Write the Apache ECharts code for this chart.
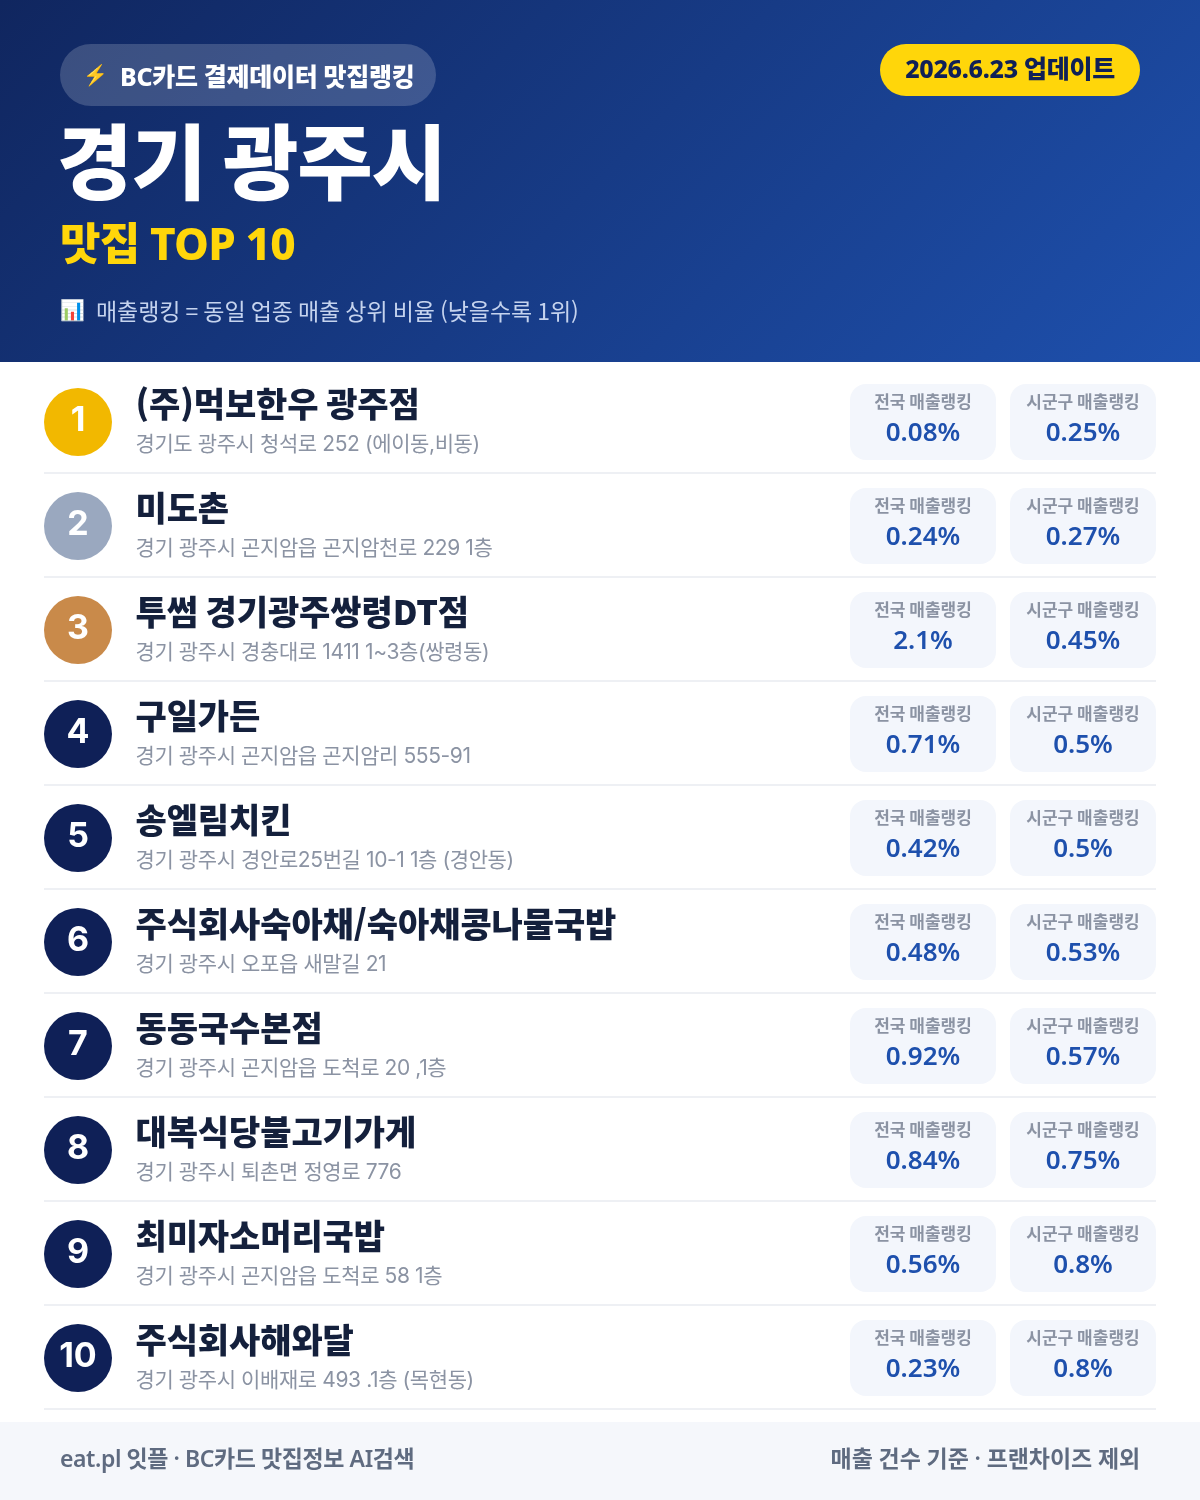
<!DOCTYPE html>
<html lang="ko"><head><meta charset="utf-8">
<script src="https://cdn.jsdelivr.net/npm/echarts@6/dist/echarts.min.js"></script>
<style>html,body{margin:0;padding:0;background:#fff}#c{width:1200px;height:1500px}</style>
</head><body><div id="c"></div>
<script>
const ranks=[1,2,3,4,5,6,7,8,9,10];
const names=['(주)먹보한우 광주점','미도촌','투썸 경기광주쌍령DT점','구일가든','송엘림치킨','주식회사숙아채/숙아채콩나물국밥','동동국수본점','대복식당불고기가게','최미자소머리국밥','주식회사해와달'];
const addresses=['경기도 광주시 청석로 252 (에이동,비동)','경기 광주시 곤지암읍 곤지암천로 229 1층','경기 광주시 경충대로 1411 1~3층(쌍령동)','경기 광주시 곤지암읍 곤지암리 555-91','경기 광주시 경안로25번길 10-1 1층 (경안동)','경기 광주시 오포읍 새말길 21','경기 광주시 곤지암읍 도척로 20 ,1층','경기 광주시 퇴촌면 정영로 776','경기 광주시 곤지암읍 도척로 58 1층','경기 광주시 이배재로 493 .1층 (목현동)'];
const nationalRank=[0.08,0.24,2.1,0.71,0.42,0.48,0.92,0.84,0.56,0.23];
const districtRank=[0.25,0.27,0.45,0.5,0.5,0.53,0.57,0.75,0.8,0.8];
const nationalLabel='전국 매출랭킹', districtLabel='시군구 매출랭킹';
const badge='BC카드 결제데이터 맛집랭킹', boltIcon='⚡', chartIcon='📊';
const updated='2026.6.23 업데이트';
const title='경기 광주시', subtitle='맛집 TOP 10';
const note='매출랭킹 = 동일 업종 매출 상위 비율 (낮을수록 1위)';
const footerLeft='eat.pl 잇플 · BC카드 맛집정보 AI검색', footerRight='매출 건수 기준 · 프랜차이즈 제외';

// letter-spacing per "weight size" (the canvas context has no per-element tracking otherwise)
const tracking={'800 82':-1.2,'800 44':-0.8,'800 25':-0.3,'800 34':-0.1,'600 23':-0.42,'601 23':-0.1,'400 21':-0.4,'400 23':-0.05};
(function(){
  const P=CanvasRenderingContext2D.prototype, d=Object.getOwnPropertyDescriptor(P,'font');
  Object.defineProperty(P,'font',{configurable:true,get(){return d.get.call(this);},set(v){
    d.set.call(this,v);
    const m=String(v).match(/(\d{3}) (\d+)px/);
    this.letterSpacing=((m&&tracking[m[1]+' '+m[2]])||0)+'px';
  }});
})();

const C='"Noto Sans CJK KR",sans-serif', N='"Noto Sans","Noto Sans CJK KR",sans-serif', I='Inter,"Noto Sans CJK KR",sans-serif';
const NAVY='#0f2057', BLUE='#1e50ad', GOLD='#ffd60a';
const medal=['#f2b800','#9aa8bf','#c98a4a'];

const chart=echarts.init(document.getElementById('c'),null,{renderer:'canvas',width:1200,height:1500});
const idx=ranks.map((r,i)=>i);

function pill(cx,labelText,valueOf){
  return {type:'custom',coordinateSystem:'cartesian2d',silent:true,animation:false,z:3,
    data:idx.map(i=>[cx,i]),
    renderItem:(p,api)=>{
      const c=api.coord([api.value(0),api.value(1)]), i=api.value(1);
      return {type:'group',children:[
        {type:'rect',shape:{x:c[0]-73,y:c[1]-38,width:146,height:76,r:16},style:{fill:'#f3f6fc'}},
        {type:'text',style:{x:c[0],y:c[1]-20,text:labelText,font:'700 17px '+C,fill:'#8b93a3',textAlign:'center',textVerticalAlign:'middle'}},
        {type:'text',style:{x:c[0],y:c[1]+12,text:valueOf[i]+'%',font:'600 26px '+N,fill:BLUE,textAlign:'center',textVerticalAlign:'middle'}}
      ]};
    }};
}

const option={
  animation:false,
  backgroundColor:'#ffffff',
  grid:{left:0,top:370,width:1200,height:1040},
  xAxis:{type:'value',min:0,max:1200,show:false},
  yAxis:{type:'category',inverse:true,data:ranks,show:false},
  graphic:{elements:[
    {type:'rect',z:0,shape:{x:0,y:0,width:1200,height:362},style:{fill:{type:'linear',x:210,y:-209,x2:990,y2:571,global:true,colorStops:[{offset:0,color:'#10265f'},{offset:1,color:'#1e50ad'}]}}},
    {type:'rect',z:1,shape:{x:60,y:44,width:376,height:62,r:31},style:{fill:'rgba(255,255,255,0.18)'}},
    {type:'text',z:2,style:{x:83,y:76,text:boltIcon,font:'20px "Noto Color Emoji",'+C,fill:'#ffc83d',textVerticalAlign:'middle'}},
    {type:'text',z:2,style:{x:120,y:79,text:badge,font:'800 25px '+N,fill:'#ffffff',textVerticalAlign:'middle'}},
    {type:'rect',z:1,shape:{x:880,y:44,width:260,height:52,r:26},style:{fill:GOLD}},
    {type:'text',z:2,style:{x:1010,y:71,text:updated,font:'800 25px '+N,fill:NAVY,textAlign:'center',textVerticalAlign:'middle'}},
    {type:'text',z:2,style:{x:57,y:162,text:title,font:'800 82px '+C,fill:'#ffffff',textVerticalAlign:'middle'}},
    {type:'text',z:2,style:{x:60,y:247,text:subtitle,font:'800 44px '+N,fill:GOLD,textVerticalAlign:'middle'}},
    {type:'text',z:2,style:{x:60,y:311,text:chartIcon,font:'20px "Noto Color Emoji",'+C,fill:'#cfe0ff',textVerticalAlign:'middle'}},
    {type:'text',z:2,style:{x:96,y:311,text:note,font:'400 23px '+C,fill:'#c5d3ee',textVerticalAlign:'middle'}},
    {type:'rect',z:1,shape:{x:0,y:1422,width:1200,height:78},style:{fill:'#f5f7fb'}},
    {type:'text',z:2,style:{x:60,y:1460,text:footerLeft,font:'600 23px '+N,fill:'#5f6b80',textVerticalAlign:'middle'}},
    {type:'text',z:2,style:{x:1140,y:1460,text:footerRight,font:'601 23px '+N,fill:'#5f6b80',textAlign:'right',textVerticalAlign:'middle'}}
  ]},
  series:[
    {type:'custom',silent:true,animation:false,z:1,data:idx.map(i=>[44,i]),
      renderItem:(p,api)=>{
        const c=api.coord([api.value(0),api.value(1)]), e=api.coord([1156,api.value(1)]);
        return {type:'rect',shape:{x:c[0],y:c[1]+50,width:e[0]-c[0],height:2},style:{fill:'#eef0f4'}};
      }},
    {type:'scatter',silent:true,animation:false,z:2,symbol:'circle',symbolSize:68,
      data:idx.map(i=>({value:[78,i],rank:ranks[i],itemStyle:{color:medal[i]||NAVY,opacity:1}})),
      label:{show:true,position:'inside',offset:[0,-1],formatter:p=>String(ranks[p.dataIndex]),color:'#fff',fontFamily:'Inter,sans-serif',fontWeight:700,fontSize:34}},
    {type:'custom',silent:true,animation:false,z:3,data:idx.map(i=>[135.5,i]),
      renderItem:(p,api)=>{
        const c=api.coord([api.value(0),api.value(1)]), i=api.value(1);
        return {type:'group',children:[
          {type:'text',style:{x:c[0],y:c[1]-18,text:names[i],font:'800 34px '+C,fill:'#14203c',textVerticalAlign:'middle'}},
          {type:'text',style:{x:c[0],y:c[1]+23,text:addresses[i],font:'400 21px '+I,fill:'#8b93a3',textVerticalAlign:'middle'}}
        ]};
      }},
    pill(923,nationalLabel,nationalRank),
    pill(1083,districtLabel,districtRank)
  ]
};
chart.setOption(option);
</script></body></html>
